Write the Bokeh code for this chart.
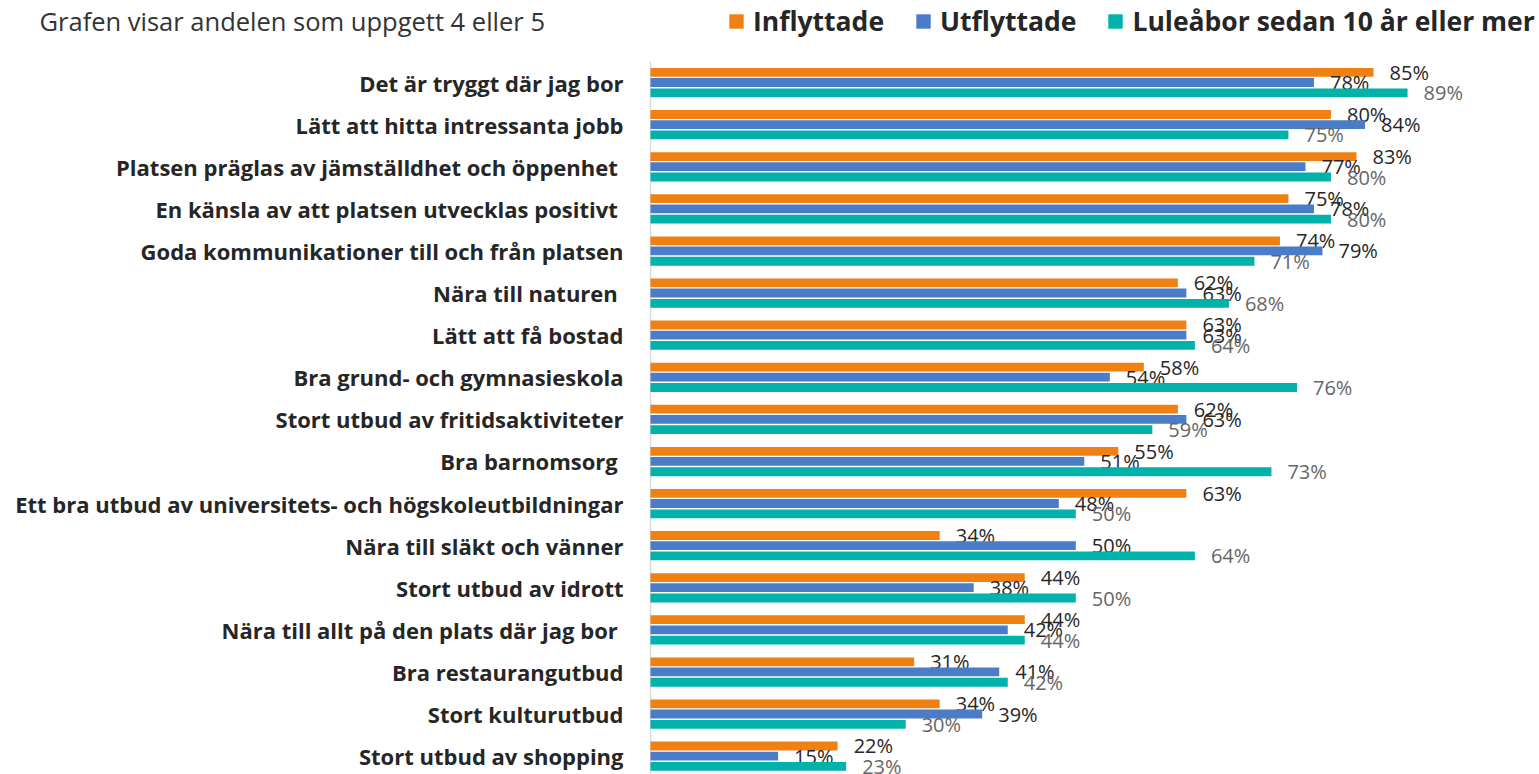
from bokeh.plotting import figure
from bokeh.models import Range1d, ColumnDataSource, Legend, LegendItem, Label
from bokeh.transform import dodge
from bokeh.core.properties import value
from bokeh.embed import file_html
from bokeh.resources import INLINE

categories = [
    "Det är tryggt där jag bor",
    "Lätt att hitta intressanta jobb",
    "Platsen präglas av jämställdhet och öppenhet ",
    "En känsla av att platsen utvecklas positivt ",
    "Goda kommunikationer till och från platsen",
    "Nära till naturen ",
    "Lätt att få bostad",
    "Bra grund- och gymnasieskola",
    "Stort utbud av fritidsaktiviteter",
    "Bra barnomsorg ",
    "Ett bra utbud av universitets- och högskoleutbildningar",
    "Nära till släkt och vänner",
    "Stort utbud av idrott",
    "Nära till allt på den plats där jag bor ",
    "Bra restaurangutbud",
    "Stort kulturutbud",
    "Stort utbud av shopping",
]
inflyttade = [85, 80, 83, 75, 74, 62, 63, 58, 62, 55, 63, 34, 44, 44, 31, 34, 22]
utflyttade = [78, 84, 77, 78, 79, 63, 63, 54, 63, 51, 48, 50, 38, 42, 41, 39, 15]
luleabor = [89, 75, 80, 80, 71, 68, 64, 76, 59, 73, 50, 64, 50, 44, 42, 30, 23]
series_names = ["Inflyttade", "Utflyttade", "Luleåbor sedan 10 år eller mer"]
title_text = "Grafen visar andelen som uppgett 4 eller 5"

colors = ["#F08012", "#4A7CC8", "#00B2A9"]
label_colors = ["#262626", "#262626", "#666666"]
offsets = [0.24, 0.0, -0.245]
FONT = "Open Sans"

n = len(categories)
ypos = [n - 1 - i for i in range(n)]
zeros = [0] * n
src = ColumnDataSource(dict(
    y=ypos, base=zeros,
    cat=categories,
    s0=inflyttade, s1=utflyttade, s2=luleabor,
    l0=[f"{v}%" for v in inflyttade],
    l1=[f"{v}%" for v in utflyttade],
    l2=[f"{v}%" for v in luleabor],
))

# frame covers the whole canvas; value 0 sits at 650px, top category at 82px
W, H = 1539, 774
px_per_pct = 8.506
px_per_row = 42.1
x0_px, top_row_px = 650, 82
x_start = -x0_px / px_per_pct
x_end = (W - x0_px) / px_per_pct
y_top = (n - 1) + top_row_px / px_per_row
y_bottom = y_top - H / px_per_row

p = figure(width=W, height=H,
           x_range=Range1d(x_start, x_end), y_range=Range1d(y_bottom, y_top),
           output_backend="svg", toolbar_location=None,
           x_axis_location=None, y_axis_location=None,
           min_border_left=0, min_border_top=0,
           min_border_right=0, min_border_bottom=0)
p.grid.visible = False
p.outline_line_color = None
p.background_fill_color = "white"

# vertical category axis line
p.segment(x0=[0], x1=[0], y0=[ypos[0] + 0.5], y1=[y_bottom],
          line_color="#D9D9D9", line_width=1.5)

# category labels (axis tick labels)
p.text(x="base", y="y", text="cat", source=src, x_offset=-27,
       text_align="right", text_baseline="middle",
       text_font=value(FONT), text_font_style="bold", text_font_size="22px",
       text_color="#262626")

items = []
for i in range(3):
    r = p.hbar(y=dodge("y", offsets[i]), left="base", right=f"s{i}", height=0.21,
               fill_color=colors[i], line_color=None, source=src)
    items.append(LegendItem(label=series_names[i], renderers=[r]))
    p.text(x=f"s{i}", y=dodge("y", offsets[i]), text=f"l{i}", source=src,
           x_offset=16, y_offset=0, text_baseline="middle", text_align="left",
           text_font=value(FONT), text_font_size="20px", text_color=label_colors[i])

legend = Legend(items=items, orientation="horizontal", location=(727, 735),
                glyph_width=18, glyph_height=18, label_standoff=8, spacing=30,
                padding=0, margin=0, border_line_color=None, background_fill_alpha=0,
                label_text_font=FONT, label_text_font_style="bold",
                label_text_font_size="26.5px", label_text_color="#262626")
p.add_layout(legend)

p.add_layout(Label(x=39, y=H - 20, x_units="screen", y_units="screen", text=title_text,
                   text_font=FONT, text_font_size="25.5px", text_color="#333333",
                   text_baseline="middle"))

open("out.html", "w").write(file_html(p, INLINE))
